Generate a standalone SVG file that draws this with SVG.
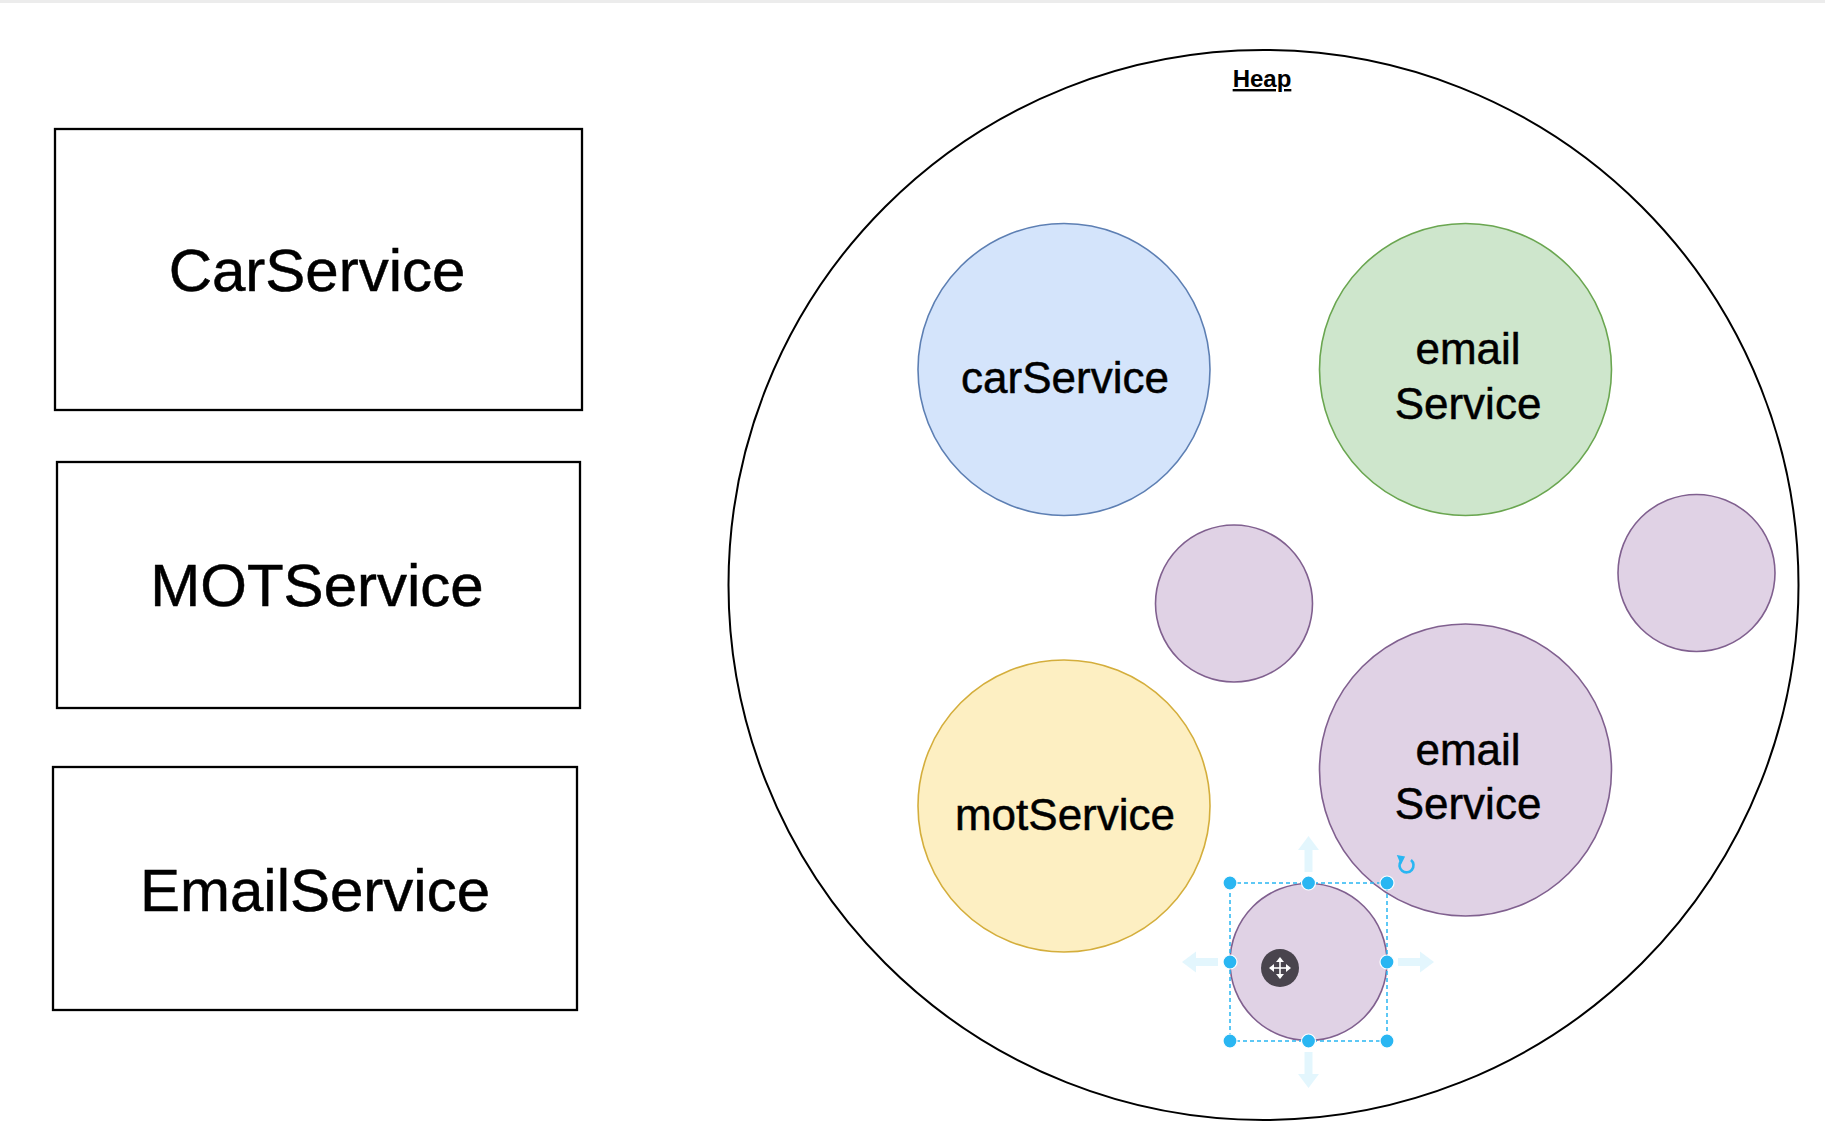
<svg xmlns="http://www.w3.org/2000/svg" width="1825" height="1135" viewBox="0 0 1825 1135">
<style>
.box{fill:#ffffff;stroke:#000000;stroke-width:2.3}
.big{font-family:"Liberation Sans",Arial,sans-serif;font-size:60px;fill:#000;stroke:#000;stroke-width:0.5;text-anchor:middle}
.lbl{font-family:"Liberation Sans",Arial,sans-serif;font-size:44px;fill:#000;stroke:#000;stroke-width:0.5;text-anchor:middle}
.blue{fill:#d4e4fb;stroke:#5d7fb3;stroke-width:1.6}
.green{fill:#cee6cc;stroke:#6aa650;stroke-width:1.6}
.yellow{fill:#fdefc2;stroke:#d4ae3c;stroke-width:1.6}
.purple{fill:#e0d2e5;stroke:#80608f;stroke-width:1.6}
.handle{fill:#29b6f2;stroke:#ffffff;stroke-width:1.2}
.ghost{fill:#29b6f2;opacity:0.13}
</style>
<rect x="0" y="0" width="1825" height="1135" fill="#ffffff"/>
<rect x="0" y="0" width="1825" height="3" fill="#ececec"/>

<g id="CarService">
<rect class="box" x="55" y="129" width="527" height="281"/>
<text class="big" x="317" y="291">CarService</text>
</g>
<g id="MOTService">
<rect class="box" x="57" y="462" width="523" height="246"/>
<text class="big" x="317" y="606">MOTService</text>
</g>
<g id="EmailService">
<rect class="box" x="53" y="767" width="524" height="243"/>
<text class="big" x="315" y="911">EmailService</text>
</g>

<g id="heap">
<circle cx="1263.5" cy="585" r="535" fill="none" stroke="#000" stroke-width="2"/>
<text x="1262" y="87" font-family="Liberation Sans, Arial, sans-serif" font-size="24" font-weight="bold" text-anchor="middle" text-decoration="underline" fill="#000">Heap</text>
</g>

<g id="carService">
<circle class="blue" cx="1064" cy="369.5" r="146"/>
<text class="lbl" x="1065" y="393">carService</text>
</g>
<g id="emailServiceGreen">
<circle class="green" cx="1465.5" cy="369.5" r="146"/>
<text class="lbl" x="1468" y="364">email</text>
<text class="lbl" x="1468" y="419">Service</text>
</g>
<g id="purpleSmall1">
<circle class="purple" cx="1234" cy="603.5" r="78.5"/>
</g>
<g id="purpleSmall2">
<circle class="purple" cx="1696.5" cy="573" r="78.5"/>
</g>
<g id="motService">
<circle class="yellow" cx="1064" cy="806" r="146"/>
<text class="lbl" x="1065" y="830">motService</text>
</g>
<g id="emailServicePurple">
<circle class="purple" cx="1465.5" cy="770" r="146"/>
<text class="lbl" x="1468" y="765">email</text>
<text class="lbl" x="1468" y="819">Service</text>
</g>
<g id="purpleSelected">
<circle class="purple" cx="1308.5" cy="962" r="78.5"/>
</g>

<g id="connectors"></g>

<g id="selection">
<path class="ghost" d="M1308.5 836 L1319 850 L1312.5 850 L1312.5 872 L1304.5 872 L1304.5 850 L1298 850 Z"/>
<path class="ghost" d="M1308.5 1088 L1319 1074 L1312.5 1074 L1312.5 1052 L1304.5 1052 L1304.5 1074 L1298 1074 Z"/>
<path class="ghost" d="M1182 962 L1196 951.5 L1196 958 L1218 958 L1218 966 L1196 966 L1196 972.5 Z"/>
<path class="ghost" d="M1434 962 L1420 951.5 L1420 958 L1398 958 L1398 966 L1420 966 L1420 972.5 Z"/>
<rect x="1230" y="883" width="157" height="158" fill="none" stroke="#29b6f2" stroke-width="1.5" stroke-dasharray="4 3"/>
<circle class="handle" cx="1230" cy="883" r="7"/>
<circle class="handle" cx="1308.5" cy="883" r="7"/>
<circle class="handle" cx="1387" cy="883" r="7"/>
<circle class="handle" cx="1230" cy="962" r="7"/>
<circle class="handle" cx="1387" cy="962" r="7"/>
<circle class="handle" cx="1230" cy="1041" r="7"/>
<circle class="handle" cx="1308.5" cy="1041" r="7"/>
<circle class="handle" cx="1387" cy="1041" r="7"/>
<path d="M1411 860 A7 7 0 1 1 1401 861" fill="none" stroke="#29b6f2" stroke-width="2.6"/>
<path d="M1398 856 L1404 857 L1401 863 Z" fill="#29b6f2" stroke="#29b6f2" stroke-width="1.5"/>
<circle cx="1280" cy="968" r="19" fill="#3c3740" opacity="0.92"/>
<g stroke="#ffffff" stroke-width="1.6" fill="none">
<line x1="1280" y1="959" x2="1280" y2="977"/>
<line x1="1271" y1="968" x2="1289" y2="968"/>
</g>
<g fill="#ffffff">
<path d="M1280 957 L1284 962 L1276 962 Z"/>
<path d="M1280 979 L1284 974 L1276 974 Z"/>
<path d="M1269 968 L1274 964 L1274 972 Z"/>
<path d="M1291 968 L1286 964 L1286 972 Z"/>
</g>
</g>
</svg>
